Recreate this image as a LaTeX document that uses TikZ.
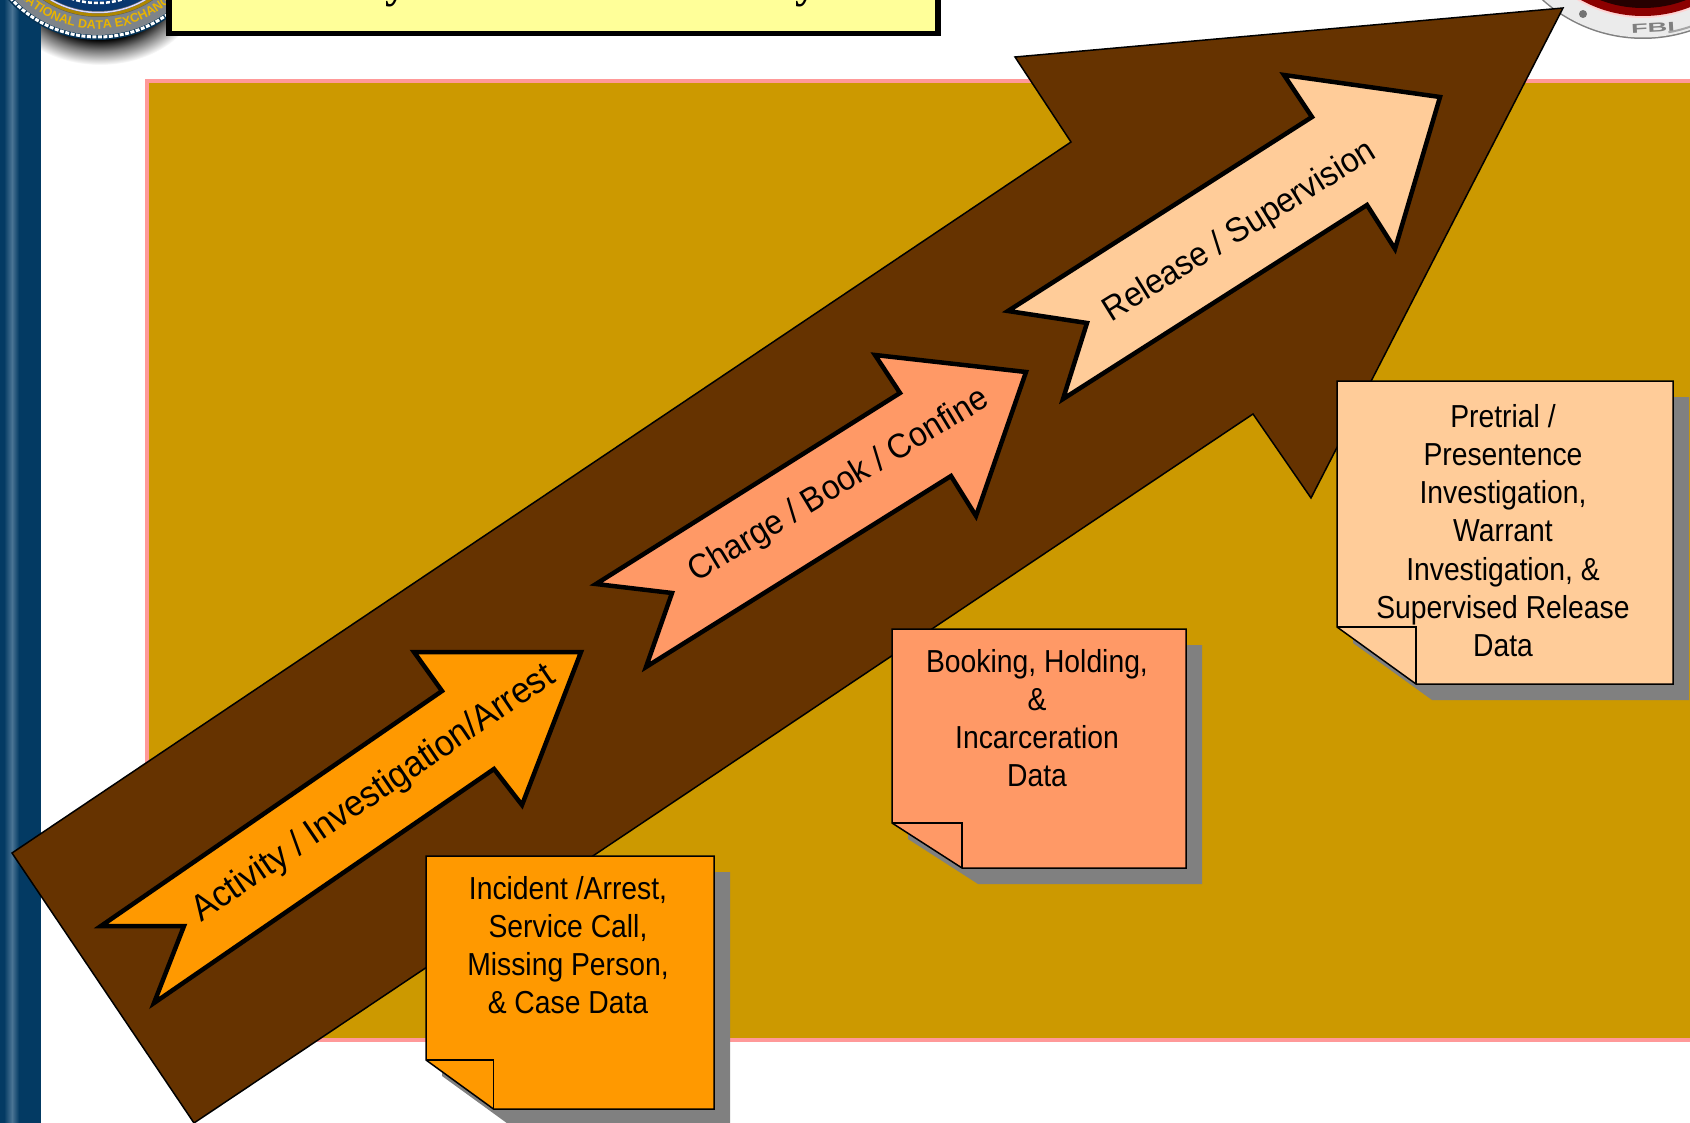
\documentclass[tikz,border=0pt]{standalone}
\usepackage{fontspec}
\usepackage{graphicx}
\setmainfont{Liberation Sans}
\newfontfamily\narrowf[FakeStretch=0.89]{Liberation Sans}
\newfontfamily\stagef[FakeStretch=0.94]{Liberation Sans}
\newfontfamily\seriff{Liberation Serif}
\usetikzlibrary{decorations.text}
\definecolor{brownc}{HTML}{663300}
\definecolor{goldc}{HTML}{CC9900}
\definecolor{pinkc}{HTML}{FF9999}
\definecolor{orangec}{HTML}{FF9900}
\definecolor{salmonc}{HTML}{FF9966}
\definecolor{peachc}{HTML}{FFCC99}
\definecolor{shadowc}{HTML}{808080}
\definecolor{yellowc}{HTML}{FFFF99}
\definecolor{bandc}{HTML}{033A63}
\definecolor{bandl}{HTML}{4A7494}
\definecolor{sealgold}{HTML}{E8B400}
\definecolor{sealblue}{HTML}{0B4F9E}
\definecolor{sealgray}{HTML}{7E848A}
\pgfdeclareradialshading{sealshadow}{\pgfpoint{0bp}{0bp}}{color(0bp)=(black);color(16.5bp)=(black);color(20bp)=(black!55);color(25bp)=(white)}
\tikzset{
  bigarrow/.style={draw=black,line width=1.5pt,fill=brownc,line join=miter,miter limit=20},
  stagearrow/.style={draw=black,line width=4.5pt,line join=miter,miter limit=20},
  stagelabel/.style={font=\stagef\fontsize{#1}{37}\selectfont,inner sep=0pt},
  notebody/.style={draw=black,line width=1.5pt,line join=miter},
  notetext/.style={font=\narrowf\fontsize{31.8}{38.2}\selectfont,align=center,anchor=north,inner sep=0pt},
}
\newcommand{\stickynote}[7]{% l t r b foldx foldy colour
  \fill[shadowc] (#1+16,#2+16) -- (#3+16,#2+16) -- (#3+16,#4+16) -- (#5+16,#4+16) -- (#1+16,#6+16) -- cycle;
  \filldraw[notebody,fill=#7] (#1,#2) -- (#3,#2) -- (#3,#4) -- (#5,#4) -- (#1,#6) -- cycle;
  \draw[notebody] (#1,#6) -- (#5,#6) -- (#5,#4);
}
\begin{document}
\begin{tikzpicture}[x=1pt,y=-1pt]
\useasboundingbox (0,0) rectangle (1690,1123);
\clip (0,0) rectangle (1690,1123);
\fill[white] (0,0) rectangle (1690,1123);
% left band
\fill[bandc] (0,0) rectangle (41,1123);
\shade[left color=bandc,right color=bandl] (4,0) rectangle (12,1123);
\shade[left color=bandl,right color=bandc] (12,0) rectangle (19,1123);
% background panel
\fill[pinkc] (145,79) rectangle (1700,1042);
\fill[goldc] (149,83) rectangle (1700,1038);
% left seal
\begin{scope}
  \clip (41,0) rectangle (200,80);
  \shade[shading=sealshadow] (100,-10) ellipse [x radius=100,y radius=75];
\end{scope}
\coordinate (sealA) at (98,-81);
\fill[bandc!85!black] (sealA) circle [radius=121];
\draw[white,line width=3pt,dash pattern=on 4pt off 1.5pt] (sealA) circle [radius=118];
\fill[sealgray] (sealA) circle [radius=116];
\fill[sealgray!70!black] (sealA) circle [radius=98];
\draw[sealgold!75!black,line width=3pt] (sealA) circle [radius=96];
\draw[white!85!blue,line width=1.5pt] (sealA) circle [radius=93.5];
\fill[sealblue!70!black] (sealA) circle [radius=92];
\draw[white,line width=2.5pt,dash pattern=on 4pt off 2pt] (sealA) circle [radius=84];
\fill[sealblue] (sealA) circle [radius=82];
\path[postaction={decorate,decoration={text along path,text align=center,
   text={|\fontsize{12.5}{13}\selectfont\bfseries\color{sealgold}|NATIONAL DATA EXCHANGE}}}]
   (sealA) ++(170:110) arc (170:10:110);
% right seal
\coordinate (sealB) at (1643,-112);
\fill[gray] (sealB) circle [radius=151];
\fill[black!8] (sealB) circle [radius=149.5];
\draw[gray!70,line width=2pt] (sealB) ++(80:146.5) arc (80:50:146.5);
\fill[pink!70!white] (sealB) circle [radius=130];
\fill[red!55!black] (sealB) circle [radius=128];
\fill[black!85!red] (sealB) circle [radius=120];
\fill[black!55] (1583,14) circle [radius=4];
\node[inner sep=0pt,text=black!50,font=\fontsize{13}{13}\selectfont\bfseries,rotate=3] (fbi) at (1653,28) {\scalebox{2.1}[1]{FBI}};
% yellow title box
\fill[black] (166,-5) rectangle (941,36);
\fill[yellowc] (172,-5) rectangle (935,31);
\begin{scope}
  \clip (172,0) rectangle (935,8);
  \node[inner sep=0pt,anchor=base,font=\seriff\bfseries\fontsize{44}{44}\selectfont] (ya) at (396,-2) {y};
  \node[inner sep=0pt,anchor=base,font=\seriff\bfseries\fontsize{44}{44}\selectfont] (yb) at (806,-2) {y};
\end{scope}
% large arrow
\filldraw[bigarrow] (12,853) -- (1071,142) -- (1015,57) -- (1563,8) -- (1311,498) -- (1253,414) -- (194,1123) -- cycle;
% stage arrows
\filldraw[stagearrow,fill=orangec] (101,926) -- (442,691) -- (414,652) -- (581,652) -- (522,805) -- (494,769) -- (154,1003) -- (184,926) -- cycle;
\filldraw[stagearrow,fill=salmonc] (596,584) -- (900,393) -- (875,355) -- (1026,372) -- (976,516) -- (951,476) -- (646,667) -- (672,593) -- cycle;
\filldraw[stagearrow,fill=peachc] (1008,311) -- (1312,117) -- (1284,75) -- (1440,97) -- (1395,249) -- (1367,205) -- (1063,399) -- (1087,323) -- cycle;
\node[stagelabel=36.4,rotate=34.2] (lab1) at (374,794) {Activity / Investigation/Arrest};
\node[stagelabel=34.3,rotate=31.2] (lab2) at (839,486) {Charge / Book / Confine};
\node[stagelabel=34.3,rotate=31.8] (lab3) at (1240,232) {Release / Supervision};
% notes
\stickynote{426}{856}{714}{1109}{493.5}{1060}{orangec}
\node[notetext] (note1) at (568,876) {Incident /Arrest,\\Service Call,\\Missing Person,\\\& Case Data};
\stickynote{892}{629}{1186}{868}{962}{823}{salmonc}
\node[notetext] (note2) at (1037,649) {Booking, Holding,\\\&\\Incarceration\\Data};
\stickynote{1337}{381}{1673}{684}{1416}{627}{peachc}
\node[notetext] (note3) at (1503,404) {Pretrial /\\Presentence\\Investigation,\\Warrant\\Investigation, \&\\Supervised Release\\Data};
\end{tikzpicture}
\end{document}
